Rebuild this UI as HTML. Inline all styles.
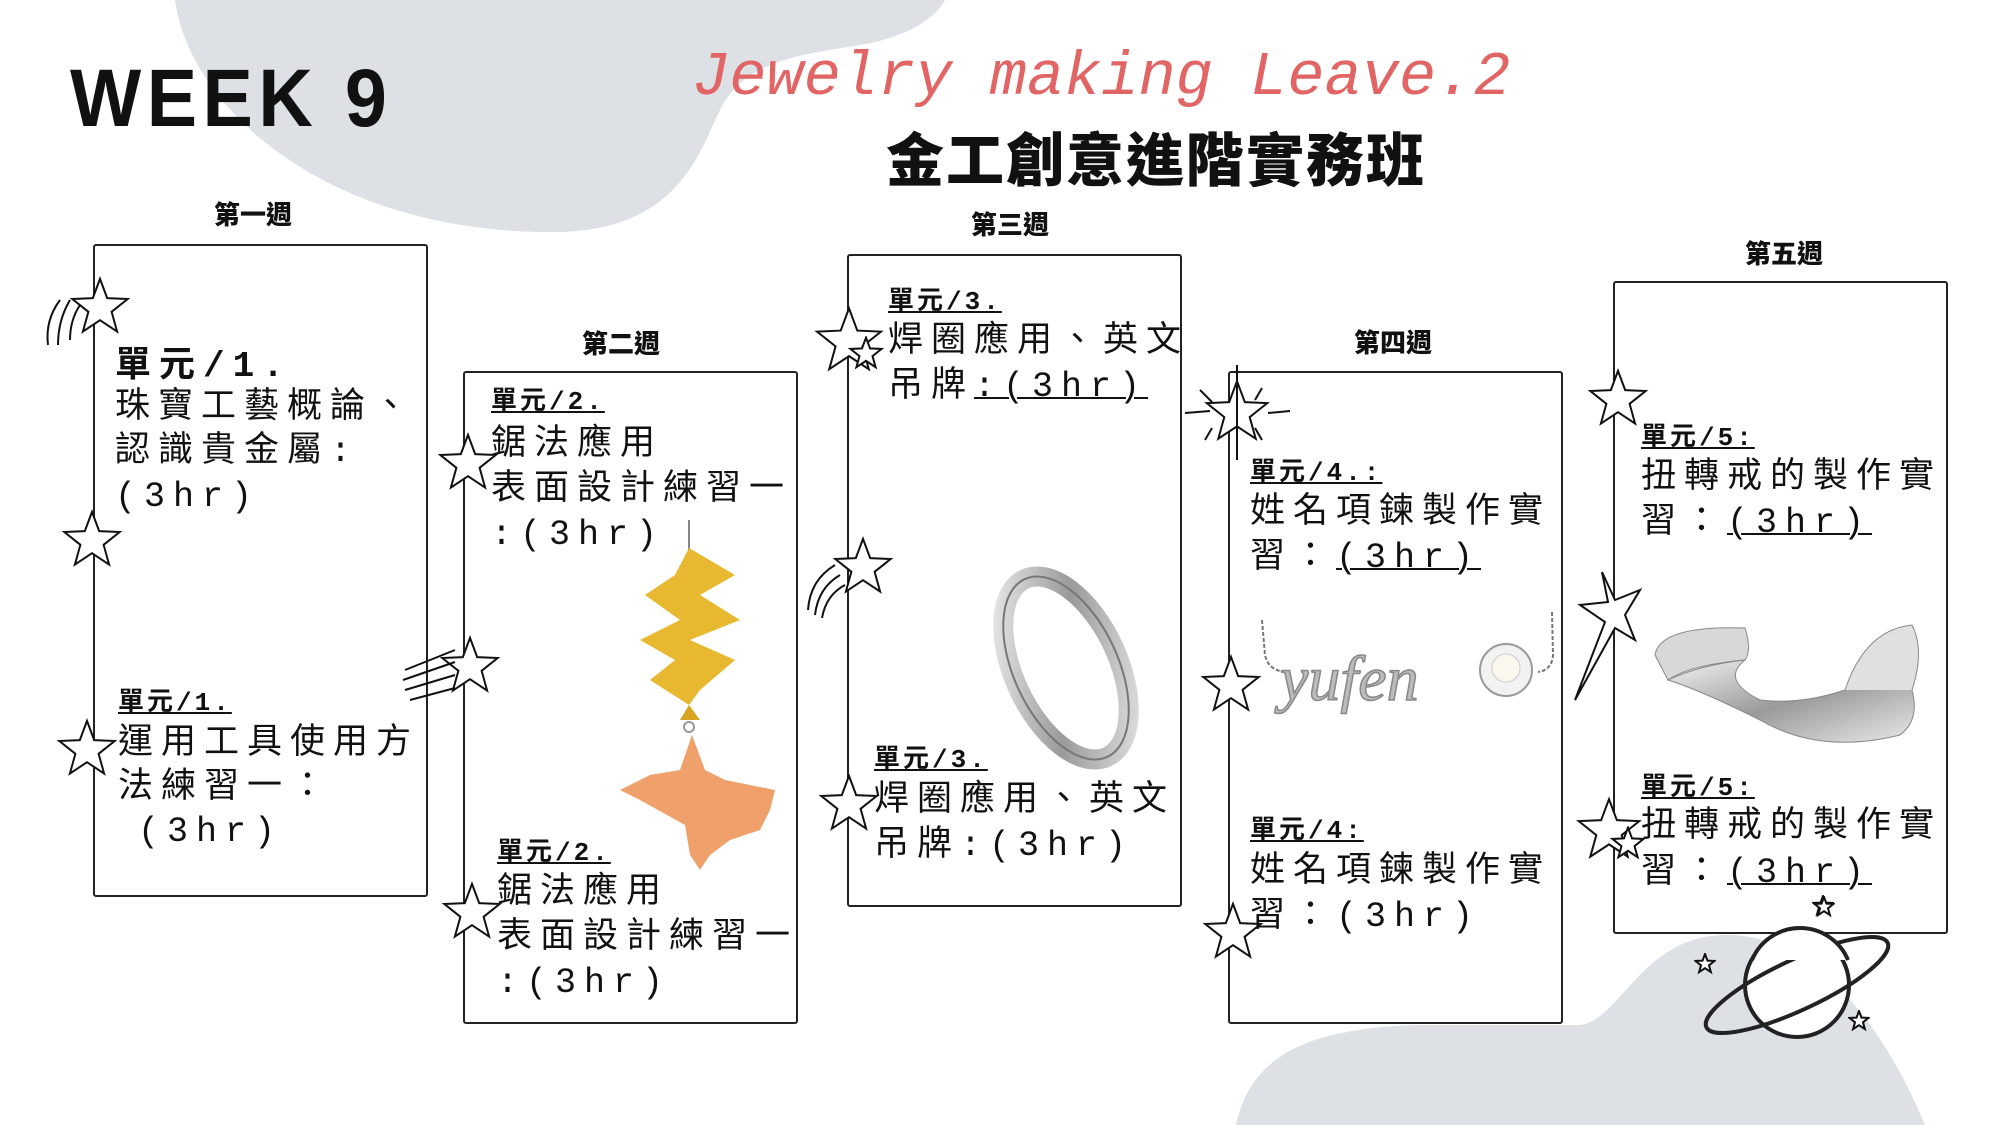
<!DOCTYPE html>
<html><head><meta charset="utf-8"><style>
html,body{margin:0;padding:0;background:#fff}
#c{position:relative;width:2000px;height:1125px;overflow:hidden;background:#fff;font-family:"Liberation Mono","Noto Sans CJK TC",monospace;color:#111}
svg{position:absolute;left:0;top:0}
.box{position:absolute;width:331px;height:649px;border:2px solid #222;border-radius:3px;background:#fff}
.wk{position:absolute;font-family:"Liberation Sans","Noto Sans CJK TC",sans-serif;font-weight:900;font-size:26px;transform:translateX(-50%);white-space:nowrap}
.t{position:absolute;font-size:35px;line-height:44px;height:44px;letter-spacing:8px;white-space:nowrap}
.u{position:absolute;font-size:26px;line-height:30px;font-weight:bold;text-decoration:underline;letter-spacing:3px;white-space:nowrap}
.ul{text-decoration:underline;text-decoration-thickness:2px}
</style></head><body><div id="c">
<svg width="2000" height="1125">
<path d="M175,0 C190,110 330,235 560,232 C680,229 700,150 720,110 C745,60 800,55 860,45 C920,35 940,10 945,0 Z" fill="#dde1e6"/>
<path d="M1236,1125 C1250,1060 1300,1028 1420,1025 L1580,1025 C1620,1020 1640,940 1720,935 C1820,930 1890,1040 1925,1125 Z" fill="#dde1e6"/>
</svg>
<div style="position:absolute;left:70px;top:52px;font-family:'Liberation Sans',sans-serif;font-weight:900;font-size:82px;letter-spacing:6px;transform:scaleX(0.92);transform-origin:left">WEEK 9</div>
<div style="position:absolute;left:692px;top:42px;font-family:'Liberation Mono',monospace;font-style:italic;font-size:62px;color:#e26565;white-space:nowrap">Jewelry making Leave.2</div>
<div style="position:absolute;left:886px;top:114px;font-family:'Noto Sans CJK TC',sans-serif;font-weight:900;font-size:58px;letter-spacing:2px;white-space:nowrap">金工創意進階實務班</div>

<div class="wk" style="left:253px;top:195px">第一週</div>
<div class="wk" style="left:621px;top:324px">第二週</div>
<div class="wk" style="left:1010px;top:205px">第三週</div>
<div class="wk" style="left:1393px;top:323px">第四週</div>
<div class="wk" style="left:1784px;top:234px">第五週</div>

<div class="box" style="left:93px;top:244px"></div>
<div class="box" style="left:463px;top:371px"></div>
<div class="box" style="left:847px;top:254px"></div>
<div class="box" style="left:1228px;top:371px"></div>
<div class="box" style="left:1613px;top:281px"></div>

<svg width="2000" height="1125">
<defs>
<linearGradient id="sil" x1="0" y1="0" x2="1" y2="1"><stop offset="0" stop-color="#f4f4f4"/><stop offset="0.5" stop-color="#9a9a9a"/><stop offset="1" stop-color="#e8e8e8"/></linearGradient>
<symbol id="s" viewBox="-1.1 -1.1 2.2 2.2"><polygon points="0,-1 0.247,-0.34 0.951,-0.309 0.399,0.13 0.588,0.809 0,0.42 -0.588,0.809 -0.399,0.13 -0.951,-0.309 -0.247,-0.34" fill="#fff" stroke="#111" stroke-width="2" vector-effect="non-scaling-stroke"/></symbol>
</defs>
<g>
<line x1="689" y1="520" x2="689" y2="560" stroke="#888" stroke-width="2"/>
<polygon points="689,548 735,575 700,595 740,620 690,640 735,660 700,690 689,705 650,680 675,660 640,640 680,620 645,595 675,575" fill="#e8b830"/>
<polygon points="689,705 700,720 680,720" fill="#d9a520"/>
<circle cx="689" cy="727" r="5" fill="none" stroke="#999" stroke-width="2"/>
<polygon points="692,735 705,770 725,780 775,790 770,810 760,830 730,840 710,855 700,870 690,855 685,825 640,800 620,790 650,775 680,770" fill="#f0a06a"/>
</g>
<ellipse cx="1066" cy="668" rx="52" ry="98" transform="rotate(-25 1066 668)" fill="none" stroke="url(#sil)" stroke-width="20"/>
<ellipse cx="1066" cy="668" rx="52" ry="98" transform="rotate(-25 1066 668)" fill="none" stroke="#777" stroke-width="2"/>
<path d="M1262,620 L1265,655 Q1268,670 1285,672 M1552,612 L1553,655 Q1552,670 1538,672" fill="none" stroke="#777" stroke-width="2" stroke-dasharray="4 2"/>
<text x="1280" y="700" font-family="Liberation Serif,serif" font-style="italic" font-size="64" fill="#bbb" stroke="#888" stroke-width="1.5">yufen</text>
<circle cx="1506" cy="670" r="26" fill="#f2f2f2" stroke="#999" stroke-width="2"/>
<circle cx="1506" cy="668" r="14" fill="#fdf8ef" stroke="#ccc"/>
<path d="M1655,655 Q1660,625 1745,628 Q1752,650 1745,660 Q1690,665 1668,680 Z" fill="#d8d8d8" stroke="#888"/>
<path d="M1668,680 Q1700,690 1760,720 Q1820,755 1900,735 Q1920,720 1912,690 Q1890,650 1845,690 Q1800,705 1760,700 Q1720,680 1745,660 Q1700,665 1668,680 Z" fill="url(#sil)" stroke="#888"/>
<path d="M1845,690 Q1865,630 1912,625 Q1925,650 1912,690" fill="#e0e0e0" stroke="#888"/>
<circle cx="1797" cy="985" r="52" fill="#fff" stroke="#222" stroke-width="4"/>
<ellipse cx="1797" cy="985" rx="100" ry="25" transform="rotate(-25 1797 985)" fill="none" stroke="#222" stroke-width="4"/>
<path d="M1752,960 A52,52 0 0 1 1848,960" fill="#fff" stroke="#222" stroke-width="4"/>
<use href="#s" x="1694" y="953" width="22" height="22"/>
<use href="#s" x="1848" y="1010" width="22" height="22"/>
<use href="#s" x="1812" y="895" width="22" height="22"/>
<use href="#s" x="68" y="276" width="64" height="64"/>
<path d="M60,300 Q45,320 48,345 M70,300 Q58,320 58,345 M80,305 Q70,320 70,340" fill="none" stroke="#111" stroke-width="2"/>
<use href="#s" x="60" y="509" width="64" height="64"/>
<use href="#s" x="55" y="718" width="64" height="64"/>
<use href="#s" x="436" y="432" width="64" height="64"/>
<use href="#s" x="438" y="635" width="64" height="64"/>
<path d="M405,670 L455,650 M403,680 L455,662 M405,690 L455,675 M410,700 L455,688" stroke="#111" stroke-width="2"/>
<use href="#s" x="440" y="881" width="64" height="64"/>
<use href="#s" x="812" y="305" width="74" height="74"/>
<use href="#s" x="848" y="336" width="36" height="36"/>
<use href="#s" x="831" y="536" width="64" height="64"/>
<path d="M808,610 Q810,580 835,565 M815,615 Q818,588 840,575 M822,618 Q826,595 845,585" fill="none" stroke="#111" stroke-width="2"/>
<use href="#s" x="817" y="773" width="64" height="64"/>
<use href="#s" x="1202" y="378" width="70" height="70"/>
<path d="M1185,413 L1210,411 M1268,413 L1290,411 M1200,390 L1212,402 M1262,388 L1255,400 M1212,428 L1205,440 M1255,428 L1262,440 M1237,365 L1237,460" stroke="#111" stroke-width="2"/>
<use href="#s" x="1199" y="654" width="64" height="64"/>
<use href="#s" x="1201" y="901" width="64" height="64"/>
<use href="#s" x="1586" y="368" width="64" height="64"/>
<polygon points="1602,572 1615,600 1640,590 1625,615 1635,640 1615,628 1575,700 1605,622 1580,605 1608,602" fill="#fff" stroke="#111" stroke-width="2"/>
<use href="#s" x="1574" y="796" width="70" height="70"/>
<use href="#s" x="1610" y="826" width="36" height="36"/>
<use href="#s" x="1813" y="896" width="22" height="22"/>
</svg>

<div class="t" style="left:115px;top:345px;font-weight:bold;font-size:36px">單元/1.</div>
<div class="t" style="left:115px;top:386px">珠寶工藝概論、</div>
<div class="t" style="left:115px;top:430px">認識貴金屬:</div>
<div class="t" style="left:115px;top:475px">(3hr)</div>
<div class="u" style="left:118px;top:688px">單元/1.</div>
<div class="t" style="left:118px;top:722px">運用工具使用方</div>
<div class="t" style="left:118px;top:766px">法練習一：</div>
<div class="t" style="left:138px;top:810px">(3hr)</div>
<div class="u" style="left:491px;top:387px">單元/2.</div>
<div class="t" style="left:491px;top:423px">鋸法應用</div>
<div class="t" style="left:491px;top:468px">表面設計練習一</div>
<div class="t" style="left:491px;top:513px">:(3hr)</div>
<div class="u" style="left:497px;top:838px">單元/2.</div>
<div class="t" style="left:497px;top:871px">鋸法應用</div>
<div class="t" style="left:497px;top:916px">表面設計練習一</div>
<div class="t" style="left:497px;top:961px">:(3hr)</div>
<div class="u" style="left:888px;top:287px">單元/3.</div>
<div class="t" style="left:888px;top:320px">焊圈應用、英文</div>
<div class="t" style="left:888px;top:365px">吊牌<span class="ul">:(3hr)</span></div>
<div class="u" style="left:874px;top:745px">單元/3.</div>
<div class="t" style="left:874px;top:779px">焊圈應用、英文</div>
<div class="t" style="left:874px;top:824px">吊牌:(3hr)</div>
<div class="u" style="left:1250px;top:458px">單元/4.:</div>
<div class="t" style="left:1250px;top:491px">姓名項鍊製作實</div>
<div class="t" style="left:1250px;top:536px">習：<span class="ul">(3hr)</span></div>
<div class="u" style="left:1250px;top:816px">單元/4:</div>
<div class="t" style="left:1250px;top:850px">姓名項鍊製作實</div>
<div class="t" style="left:1250px;top:895px">習：(3hr)</div>
<div class="u" style="left:1641px;top:423px">單元/5:</div>
<div class="t" style="left:1641px;top:456px">扭轉戒的製作實</div>
<div class="t" style="left:1641px;top:501px">習：<span class="ul">(3hr)</span></div>
<div class="u" style="left:1641px;top:773px">單元/5:</div>
<div class="t" style="left:1641px;top:805px">扭轉戒的製作實</div>
<div class="t" style="left:1641px;top:851px">習：<span class="ul">(3hr)</span></div>
</div></body></html>
